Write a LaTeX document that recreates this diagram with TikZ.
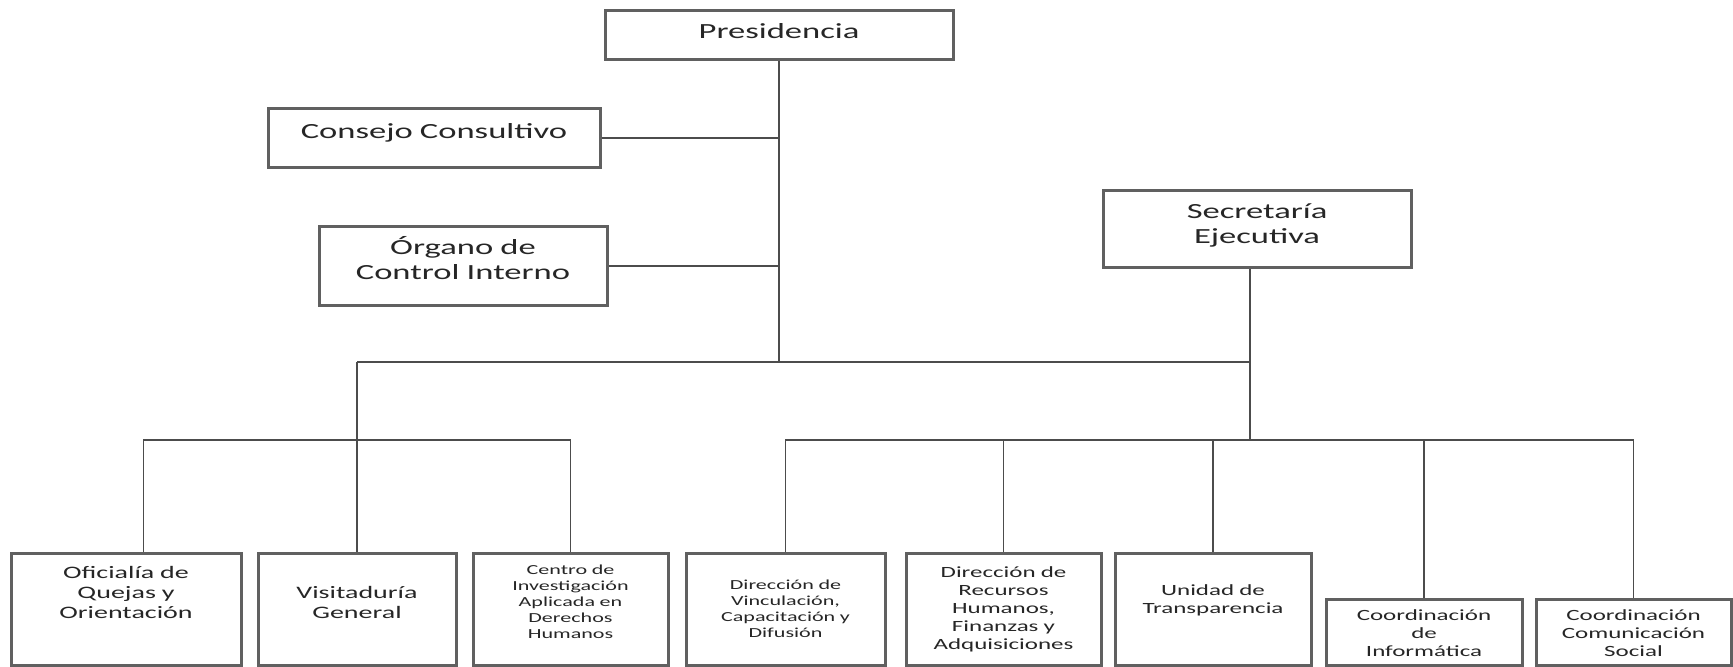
\documentclass[tikz,border=0pt]{standalone}
\usepackage{fontspec}
\setmainfont[FakeStretch=1.6]{Carlito}
\usetikzlibrary{positioning}

\begin{document}
\begin{tikzpicture}[x=0.5pt, y=-0.5pt,
  bx/.style={draw=gray!75!black, line width=1.5pt, inner sep=0pt,
             align=center, anchor=north, text=black!85},
  big/.style={bx, font=\fontsize{10.8}{12.25}\selectfont},
  mid/.style={bx, font=\fontsize{8.75}{10}\selectfont},
  med/.style={bx, font=\fontsize{7.8}{9}\selectfont},
  sml/.style={bx, font=\fontsize{6.9}{8}\selectfont},
  ln/.style={line width=0.8pt, black!70}]
\useasboundingbox (0,0) rectangle (1733,666);

% nivel superior: presidencia y organos de apoyo
\node[big, text width=174pt, text height=14pt, text depth=10.5pt] (pres) at (779,9) {Presidencia};
\node[big, text width=166pt, text height=15pt, text depth=14.5pt] (consejo) at (434,107) {Consejo Consultivo};
\node[big, text width=144pt, text height=14pt, text depth=25.5pt] (organo) at (463,225)
  {Órgano de\\Control Interno};
\node[big, text width=154pt, text height=14pt, text depth=24.5pt] (secre) at (1257,189)
  {Secretaría\\Ejecutiva};

% unidades dependientes de presidencia
\node[mid, text width=115pt, text height=12.5pt, text depth=43.5pt] (ofq) at (126,552)
  {Oficialía de\\Quejas y\\Orientación};
\node[mid, text width=99pt, text height=22.5pt, text depth=33.5pt] (visita) at (357,552)
  {Visitaduría\\General};
\node[sml, text width=97.5pt, text height=10.5pt, text depth=45.5pt] (centro) at (570.5,552)
  {Centro de\\Investigación\\Aplicada en\\Derechos\\Humanos};

% unidades dependientes de la secretaria
\node[sml, text width=99.5pt, text height=18pt, text depth=38pt] (vinc) at (785.5,552)
  {Dirección de\\Vinculación,\\Capacitación y\\Difusión};
\node[med, text width=97.5pt, text height=12pt, text depth=44pt] (recursos) at (1003.5,552)
  {Dirección de\\Recursos\\Humanos,\\Finanzas y\\Adquisiciones};
\node[med, text width=98pt, text height=21pt, text depth=35pt] (unidad) at (1213,552)
  {Unidad de\\Transparencia};
\node[med, text width=98pt, text height=10.5pt, text depth=22.5pt] (coordinf) at (1424,598)
  {Coordinación\\de\\Informática};
\node[med, text width=97.5pt, text height=10.5pt, text depth=22.5pt] (coordcom) at (1633.5,598)
  {Coordinación\\Comunicación\\Social};

% lineas de mando
\coordinate (up) at (0,362);
\coordinate (lo) at (0,440);
\draw[ln] (pres.south) -- (pres.south |- up);
\draw[ln] (consejo.east) -- (consejo.east -| pres.south);
\draw[ln] (organo.east) -- (organo.east -| pres.south);
\draw[ln] (visita.north |- up) -- ([xshift=-3.5pt]secre.south |- up);
\draw[ln] (visita.north |- up) -- (visita.north);
\draw[ln] ([xshift=8.75pt]ofq.north) |- (centro.north |- lo) -- (centro.north);
\draw[ln] ([xshift=-3.5pt]secre.south) -- ([xshift=-3.5pt]secre.south |- lo);
\draw[ln] (vinc.north) |- (coordcom.north |- lo) -- (coordcom.north);
\draw[ln] (recursos.north) -- (recursos.north |- lo);
\draw[ln] (unidad.north) -- (unidad.north |- lo);
\draw[ln] (coordinf.north) -- (coordinf.north |- lo);
\end{tikzpicture}
\end{document}
